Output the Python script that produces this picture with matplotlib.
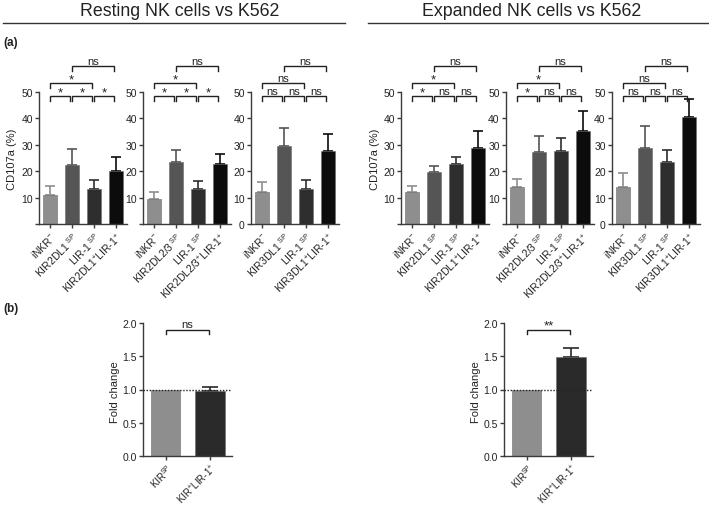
import matplotlib
matplotlib.use("Agg")
import matplotlib.pyplot as plt
import numpy as np

plt.rcParams['font.family'] = ['Liberation Sans', 'DejaVu Sans']
plt.rcParams['mathtext.fontset'] = 'custom'
plt.rcParams['mathtext.rm'] = 'Liberation Sans'
plt.rcParams['mathtext.it'] = 'Liberation Sans:italic'
plt.rcParams['mathtext.bf'] = 'Liberation Sans:bold'
plt.rcParams['mathtext.default'] = 'regular'

# ---- data (a): CD107a % mean and upper error ----
resting_kir2dl1 = [11.0, 22.5, 13.3, 20.2]
resting_kir2dl1_err = [3.5, 6.0, 3.2, 5.0]
resting_kir2dl23 = [9.5, 23.5, 13.3, 22.8]
resting_kir2dl23_err = [2.5, 4.7, 3.0, 3.8]
resting_kir3dl1 = [12.0, 29.5, 13.4, 27.6]
resting_kir3dl1_err = [3.9, 6.8, 3.4, 6.4]

expanded_kir2dl1 = [12.0, 19.8, 22.8, 28.9]
expanded_kir2dl1_err = [2.5, 2.2, 2.6, 6.3]
expanded_kir2dl23 = [14.0, 27.4, 27.8, 35.3]
expanded_kir2dl23_err = [3.1, 6.1, 4.6, 7.4]
expanded_kir3dl1 = [14.0, 28.6, 23.4, 40.4]
expanded_kir3dl1_err = [5.2, 8.5, 4.7, 7.0]

labels_kir2dl1 = ['iNKR$^{-}$', 'KIR2DL1$^{\\ SP}$', 'LIR-1$^{\\ SP}$', 'KIR2DL1$^{+}$LIR-1$^{+}$']
labels_kir2dl23 = ['iNKR$^{-}$', 'KIR2DL2/3$^{\\ SP}$', 'LIR-1$^{\\ SP}$', 'KIR2DL2/3$^{+}$LIR-1$^{+}$']
labels_kir3dl1 = ['iNKR$^{-}$', 'KIR3DL1$^{\\ SP}$', 'LIR-1$^{\\ SP}$', 'KIR3DL1$^{+}$LIR-1$^{+}$']

# significance: (lower 1-2, 2-3, 3-4, middle 1-3, top 2-4)
sig_resting_kir2dl1 = ['*', '*', '*', '*', 'ns']
sig_resting_kir2dl23 = ['*', '*', '*', '*', 'ns']
sig_resting_kir3dl1 = ['ns', 'ns', 'ns', 'ns', 'ns']
sig_expanded_kir2dl1 = ['*', 'ns', 'ns', '*', 'ns']
sig_expanded_kir2dl23 = ['*', 'ns', 'ns', '*', 'ns']
sig_expanded_kir3dl1 = ['ns', 'ns', 'ns', 'ns', 'ns']

# ---- data (b): fold change ----
fold_labels = ['KIR$^{SP}$', 'KIR$^{+}$LIR-1$^{+}$']
fold_resting = [1.0, 0.98]
fold_resting_err = [0.0, 0.06]
fold_expanded = [1.0, 1.49]
fold_expanded_err = [0.0, 0.14]
fold_sig_resting = 'ns'
fold_sig_expanded = '**'

bar_colors = ['#8e8e8e', '#555555', '#2e2e2e', '#0c0c0c']
fold_colors = ['#8e8e8e', '#2a2a2a']
axis_color = '#3a3a3a'

W, H = 709, 506
fig = plt.figure(figsize=(W / 100, H / 100), dpi=100)


def px_axes(left, top, right, bottom):
    return fig.add_axes([left / W, 1 - bottom / H, (right - left) / W, (bottom - top) / H])


def style_axis(ax):
    for s in ['top', 'right']:
        ax.spines[s].set_visible(False)
    for s in ['left', 'bottom']:
        ax.spines[s].set_color(axis_color)
        ax.spines[s].set_linewidth(1.0)
    ax.tick_params(axis='both', direction='out', length=3, width=1.0, color=axis_color,
                   labelsize=7.5, pad=1.5, labelcolor='#222222')


def bracket(ax, x1, x2, y, drop, text):
    ax.plot([x1, x1, x2, x2], [y - drop, y, y, y - drop], color='#222222', lw=1.0,
            clip_on=False, solid_joinstyle='miter')
    if text == 'ns':
        ax.annotate(text, xy=((x1 + x2) / 2, y), xytext=(0, 0.3), textcoords='offset points',
                    ha='center', va='bottom', fontsize=8, color='#222222', annotation_clip=False)
    else:
        ax.annotate(text, xy=((x1 + x2) / 2, y), xytext=(0, -1.5), textcoords='offset points',
                    ha='center', va='bottom', fontsize=9.5, color='#222222', annotation_clip=False)


def cd107_panel(left, values, errs, labels, sigs, show_zero):
    ax = px_axes(left, 93, left + 88, 225)
    style_axis(ax)
    x = np.arange(len(values))
    for i in range(len(values)):
        ax.bar(x[i], values[i], width=0.68, color=bar_colors[i], edgecolor='#6a6a6a', linewidth=0.4,
               zorder=2)
        ax.errorbar(x[i], values[i], yerr=[[0], [errs[i]]], fmt='none', ecolor=bar_colors[i],
                    elinewidth=1.2, capsize=3.5, capthick=1.2, zorder=1)
    ax.set_xlim(-0.5, 3.5)
    ax.set_ylim(0, 50)
    ax.set_yticks([0, 10, 20, 30, 40, 50])
    ax.set_yticklabels(['0' if show_zero else '', '10', '20', '30', '40', '50'])
    ax.set_xticks(x)
    ax.set_xticklabels(labels, rotation=45, ha='right', rotation_mode='anchor', fontsize=7.5)
    # brackets
    a, b = 0.02, 0.07
    bracket(ax, x[0] + a, x[1] - b, 48.5, 1.9, sigs[0])
    bracket(ax, x[1] + a, x[2] - b, 48.5, 1.9, sigs[1])
    bracket(ax, x[2] + a, x[3] - b, 48.5, 1.9, sigs[2])
    bracket(ax, x[0] + a, x[2] - b, 53.4, 1.9, sigs[3])
    bracket(ax, x[1] + a, x[3] - b, 59.7, 1.9, sigs[4])
    return ax


def fold_panel(left, values, errs, sig):
    ax = px_axes(left, 324, left + 89, 457)
    style_axis(ax)
    x = np.arange(len(values))
    for i in range(len(values)):
        ax.bar(x[i], values[i], width=0.66, color=fold_colors[i], edgecolor='#6a6a6a', linewidth=0.4,
               zorder=2)
        if errs[i] > 0:
            ax.errorbar(x[i], values[i], yerr=[[0], [errs[i]]], fmt='none', ecolor=fold_colors[i],
                        elinewidth=1.2, capsize=5.5, capthick=1.2, zorder=1)
    ax.axhline(1.0, color='#222222', lw=1.0, ls=(0, (1, 1.2)), zorder=3)
    ax.set_xlim(-0.52, 1.5)
    ax.set_ylim(0, 2.0)
    ax.set_yticks([0.0, 0.5, 1.0, 1.5, 2.0])
    ax.set_yticklabels(['0.0', '0.5', '1.0', '1.5', '2.0'])
    ax.set_xticks(x)
    ax.set_xticklabels(fold_labels, rotation=45, ha='right', rotation_mode='anchor', fontsize=7.0)
    ax.tick_params(axis='x', pad=1.0)
    bracket(ax, x[0], x[1] - 0.02, 1.9, 0.07, sig)
    return ax


cd107_panel(39, resting_kir2dl1, resting_kir2dl1_err, labels_kir2dl1, sig_resting_kir2dl1, False)
cd107_panel(143, resting_kir2dl23, resting_kir2dl23_err, labels_kir2dl23, sig_resting_kir2dl23, False)
cd107_panel(251, resting_kir3dl1, resting_kir3dl1_err, labels_kir3dl1, sig_resting_kir3dl1, True)
cd107_panel(401, expanded_kir2dl1, expanded_kir2dl1_err, labels_kir2dl1, sig_expanded_kir2dl1, False)
cd107_panel(506, expanded_kir2dl23, expanded_kir2dl23_err, labels_kir2dl23, sig_expanded_kir2dl23, False)
cd107_panel(612, expanded_kir3dl1, expanded_kir3dl1_err, labels_kir3dl1, sig_expanded_kir3dl1, True)

fold_panel(143, fold_resting, fold_resting_err, fold_sig_resting)
fold_panel(504, fold_expanded, fold_expanded_err, fold_sig_expanded)

# headers, underline rules, panel letters, y labels
fig.text(180 / W, 1 - 11 / H, 'Resting NK cells vs K562', ha='center', va='center', fontsize=12.8,
         color='#222222')
fig.text(532 / W, 1 - 11 / H, 'Expanded NK cells vs K562', ha='center', va='center', fontsize=12.8,
         color='#222222')
fig.add_artist(plt.Line2D([3 / W, 345 / W], [1 - 24 / H, 1 - 24 / H], color='#333333', lw=1.0))
fig.add_artist(plt.Line2D([368 / W, 708 / W], [1 - 24 / H, 1 - 24 / H], color='#333333', lw=1.0))
fig.text(3 / W, 1 - 43 / H, '(a)', ha='left', va='center', fontsize=8.5, fontweight='bold', color='#222222')
fig.text(3 / W, 1 - 309 / H, '(b)', ha='left', va='center', fontsize=8.5, fontweight='bold', color='#222222')
fig.text(12 / W, 1 - 159 / H, 'CD107a (%)', ha='center', va='center', rotation=90, fontsize=8,
         color='#222222')
fig.text(375 / W, 1 - 159 / H, 'CD107a (%)', ha='center', va='center', rotation=90, fontsize=8,
         color='#222222')
fig.text(115 / W, 1 - 392 / H, 'Fold change', ha='center', va='center', rotation=90, fontsize=8,
         color='#222222')
fig.text(476 / W, 1 - 392 / H, 'Fold change', ha='center', va='center', rotation=90, fontsize=8,
         color='#222222')

fig.savefig('out.png', dpi=100)
